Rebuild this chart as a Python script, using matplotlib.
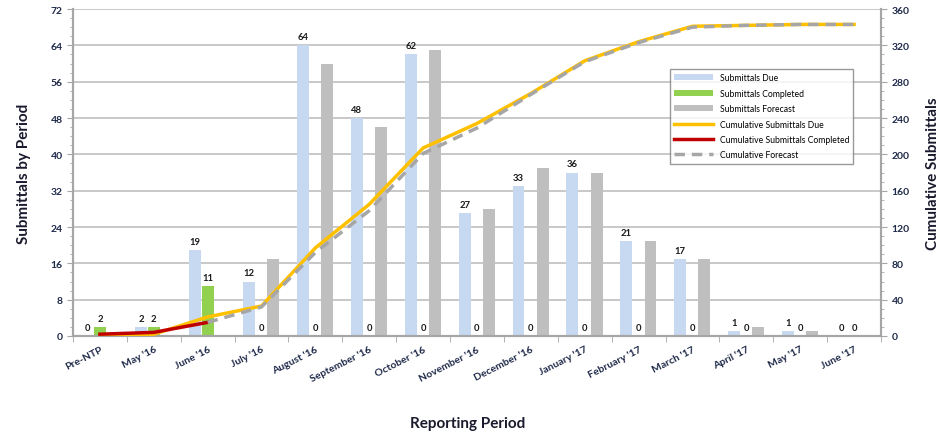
import numpy as np
import matplotlib
matplotlib.use('Agg')
import matplotlib.pyplot as plt
from matplotlib.ticker import MultipleLocator, FixedLocator

plt.rcParams['font.family'] = ['Lato', 'DejaVu Sans']

# data
periods = ["Pre-NTP", "May '16", "June '16", "July '16", "August '16", "September '16",
           "October '16", "November '16", "December '16", "January '17", "February '17",
           "March '17", "April '17", "May '17", "June '17"]
due = [0, 2, 19, 12, 64, 48, 62, 27, 33, 36, 21, 17, 1, 1, 0]
completed = [2, 2, 11, 0, 0, 0, 0, 0, 0, 0, 0, 0, 0, 0, 0]
forecast = [0, 0, 0, 17, 60, 46, 63, 28, 37, 36, 21, 17, 2, 1, 0]
cum_due = [0, 2, 21, 33, 97, 145, 207, 234, 267, 303, 324, 341, 342, 343, 343]
cum_completed = [2, 4, 15, None, None, None, None, None, None, None, None, None, None, None, None]
cum_forecast = [None, None, 15, 32, 92, 138, 201, 229, 266, 302, 323, 340, 342, 343, 343]

navy = '#1f2a4a'
x = np.arange(len(periods))
w = 0.22

fig = plt.figure(figsize=(9.52, 4.35), dpi=100)
ax1 = fig.add_axes([73 / 952, 1 - 337 / 435, 808 / 952, 327 / 435])

ax1.bar(x - 0.23, due, w, color='#c6d9f1', label='Submittals Due', zorder=2)
comp_arr = np.array(completed, dtype=float)
ax1.bar(x, np.where(comp_arr > 0, comp_arr, np.nan), w, color='#92d050',
        label='Submittals Completed', zorder=2)
ax1.bar(x + 0.22, forecast, w, color='#bfbfbf', label='Submittals Forecast', zorder=2)

for i in range(len(x)):
    ax1.text(x[i] - 0.23, due[i] + 0.9, str(due[i]), ha='center', va='bottom',
             fontsize=6.8, fontweight='bold', color='#1a1a1a', zorder=5)
    ax1.text(x[i], completed[i] + 0.9, str(completed[i]), ha='center', va='bottom',
             fontsize=6.8, fontweight='bold', color='#1a1a1a', zorder=5)

ax1.set_xlim(-0.5, len(x) - 0.5)
ax1.set_ylim(0, 72)
ax1.yaxis.set_major_locator(MultipleLocator(8))
ax1.yaxis.set_minor_locator(MultipleLocator(2))
ax1.grid(axis='y', color='#bfbfbf', linewidth=1.2, zorder=0)
ax1.set_axisbelow(True)

ax1.set_xticks(x)
ax1.set_xticklabels(periods, rotation=27, ha='right', rotation_mode='anchor',
                    fontsize=7.5, color=navy)
ax1.xaxis.set_minor_locator(FixedLocator(np.arange(-0.5, len(x), 1)))
ax1.tick_params(axis='x', which='major', length=0, pad=6)
ax1.tick_params(axis='x', which='minor', length=4, color='#a6a6a6')
ax1.tick_params(axis='y', which='major', length=4, color='#a6a6a6', labelsize=7.5,
                labelcolor=navy)
ax1.tick_params(axis='y', which='minor', length=2, color='#a6a6a6')
for lab in ax1.get_yticklabels() + ax1.get_xticklabels():
    lab.set_fontweight('bold')

ax1.spines['top'].set_visible(False)
for s in ['left', 'bottom', 'right']:
    ax1.spines[s].set_color('#a6a6a6')
    ax1.spines[s].set_linewidth(1.5)

ax2 = ax1.twinx()
ax2.set_ylim(0, 360)
ax2.yaxis.set_major_locator(MultipleLocator(40))
ax2.yaxis.set_minor_locator(MultipleLocator(10))
ax2.tick_params(axis='y', which='major', length=4, color='#a6a6a6', labelsize=7.5,
                labelcolor=navy)
ax2.tick_params(axis='y', which='minor', length=2, color='#a6a6a6')
for lab in ax2.get_yticklabels():
    lab.set_fontweight('bold')
ax2.spines['top'].set_visible(False)
for s in ['left', 'bottom', 'right']:
    ax2.spines[s].set_color('#a6a6a6')
    ax2.spines[s].set_linewidth(1.5)

cf = np.array([np.nan if v is None else v for v in cum_forecast], dtype=float)
cc = np.array([np.nan if v is None else v for v in cum_completed], dtype=float)
ax2.plot(x, cum_due, color='#ffc000', linewidth=2.5, label='Cumulative Submittals Due', zorder=3)
ax2.plot(x, cc, color='#c00000', linewidth=2.5, label='Cumulative Submittals Completed', zorder=4)
ax2.plot(x, cf, color='#a6a6a6', linewidth=2.5, linestyle=(0, (3, 2)),
         label='Cumulative Forecast', zorder=4)

h1, l1 = ax1.get_legend_handles_labels()
h2, l2 = ax2.get_legend_handles_labels()
leg = ax2.legend(h1 + h2, l1 + l2, loc='upper left', bbox_to_anchor=(0.733, 0.83),
                 fontsize=6.2, frameon=True, fancybox=False, edgecolor='#808080',
                 handlelength=4.5, labelspacing=0.75, borderpad=0.5)
leg.get_frame().set_linewidth(1.0)

ax1.set_ylabel('Submittals by Period', fontsize=11, fontweight='bold', color='#1a1a2e', labelpad=14)
ax2.set_ylabel('Cumulative Submittals', fontsize=11, fontweight='bold', color='#1a1a2e', labelpad=12)
fig.text(468 / 952, 1 - 424 / 435, 'Reporting Period', ha='center', va='center',
         fontsize=11, fontweight='bold', color='#1a1a2e')

fig.savefig('out.png', dpi=100)
